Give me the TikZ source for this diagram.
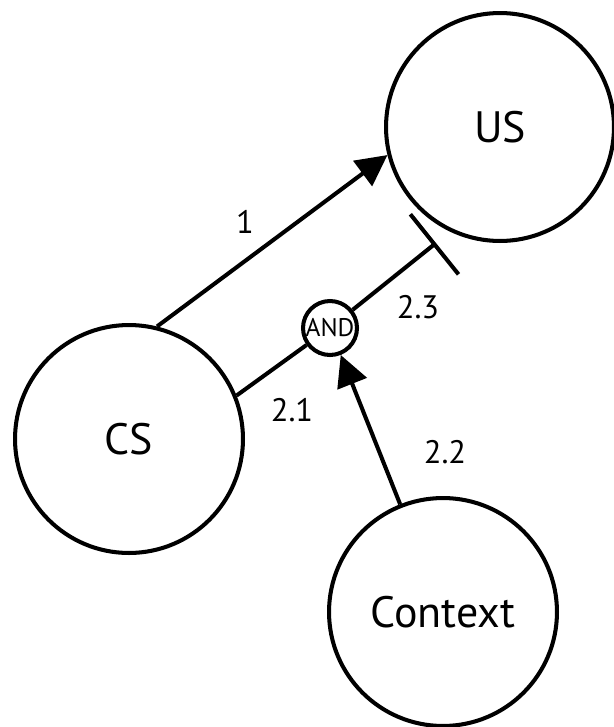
\documentclass[tikz,border=0pt]{standalone}
\usepackage{fontspec}
\setmainfont{PT Sans}
\usetikzlibrary{arrows.meta}

\begin{document}
\begin{tikzpicture}[x=0.02cm,y=-0.02cm,line width=2.3pt,
        unit/.style={draw,circle,minimum size=4.56cm,inner sep=0pt,font=\fontsize{25}{29}\selectfont},
        gate/.style={draw,circle,minimum size=1.08cm,inner sep=0pt,font=\fontsize{14.5}{17}\selectfont},
        lab/.style={font=\fontsize{18.5}{22}\selectfont},
        >={Triangle[length=0.62cm,width=0.62cm]}]
    \useasboundingbox (0,0) rectangle (613,727);
    \node[unit] (US) at (500,127) {US};
    \node[unit] (CS) at (129,439) {CS};
    \node[unit] (Ctx) at (443,612) {Context};
    \node[gate] (AND) at (330,328) {AND};
    \coordinate (blk) at (436,243);
    \draw [->] (CS.76) -- (US.194);
    \draw (CS.22) -- (AND);
    \draw [-{Bar[width=1.54cm]}] (AND) -- (blk);
    \draw [->] (Ctx) -- (AND);
    \node[lab] (l1) at (245,222) {1};
    \node[lab] (l21) at (292,410) {2.1};
    \node[lab] (l22) at (445,452) {2.2};
    \node[lab] (l23) at (418,307) {2.3};
\end{tikzpicture}
\end{document}
